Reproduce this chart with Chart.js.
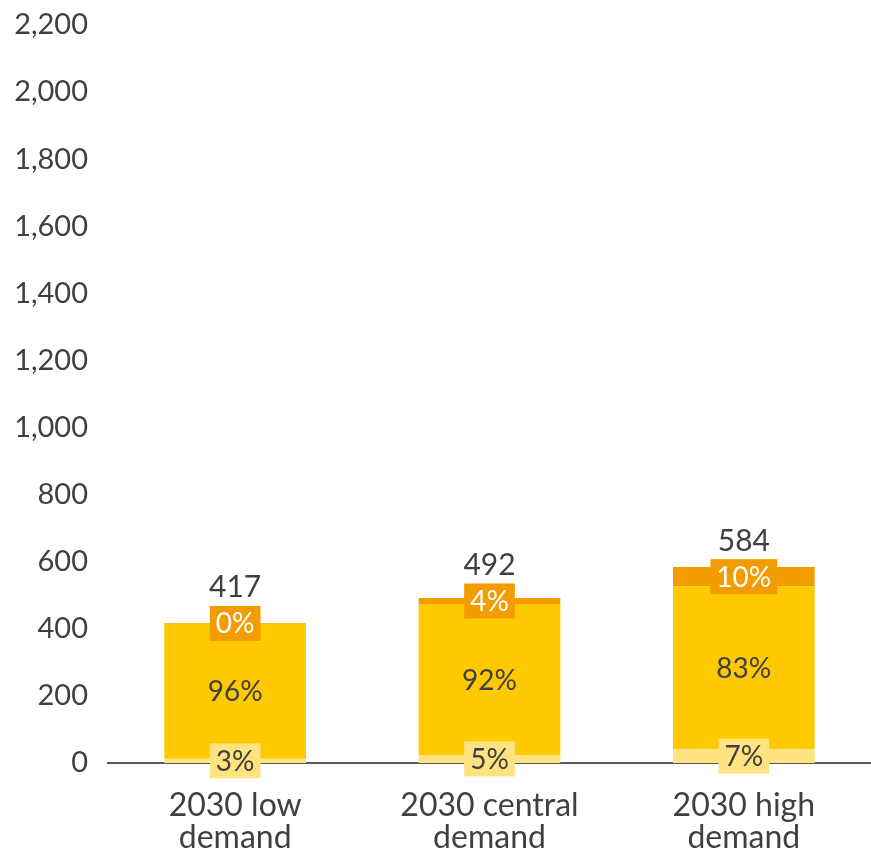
<!DOCTYPE html>
<html>
<head>
<meta charset="utf-8">
<script src="https://cdn.jsdelivr.net/npm/chart.js@4.4.1/dist/chart.umd.min.js"></script>
<style>
  html, body { margin: 0; padding: 0; background: #ffffff; }
  #wrap { width: 871px; height: 854px; position: relative; }
</style>
</head>
<body>
<div id="wrap"><canvas id="c" width="871" height="854"></canvas></div>
<script>
const categories = [["2030 low", "demand"], ["2030 central", "demand"], ["2030 high", "demand"]];
const bottomValues = [13, 24, 41];
const middleValues = [402, 450, 486];
const topValues = [2, 18, 57];
const bottomLabels = ["3%", "5%", "7%"];
const middleLabels = ["96%", "92%", "83%"];
const topLabels = ["0%", "4%", "10%"];
const totals = ["417", "492", "584"];

const FONT = "Lato, 'Noto Sans', sans-serif";
const TEXT = "#404040";
const LIGHT = "#FFE380";
const YELLOW = "#FFC900";
const ORANGE = "#F39C00";

const labelSets = [
  { labels: bottomLabels, box: LIGHT, color: TEXT },
  { labels: middleLabels, box: null, color: TEXT },
  { labels: topLabels, box: ORANGE, color: "#ffffff" }
];

const labelPlugin = {
  id: "segLabels",
  afterDatasetsDraw(chart) {
    const ctx = chart.ctx;
    ctx.save();
    ctx.font = "28px " + FONT;
    ctx.textAlign = "center";
    ctx.textBaseline = "middle";
    labelSets.forEach((set, di) => {
      const meta = chart.getDatasetMeta(di);
      meta.data.forEach((el, i) => {
        const cy = (el.y + el.base) / 2;
        const txt = set.labels[i];
        const w = ctx.measureText(txt).width;
        if (set.box) {
          ctx.fillStyle = set.box;
          ctx.fillRect(el.x - w / 2 - 6, cy - 17.5, w + 12, 35);
        }
        ctx.fillStyle = set.color;
        ctx.fillText(txt, el.x, cy + 1);
      });
    });
    const topMeta = chart.getDatasetMeta(2);
    ctx.font = "30px " + FONT;
    ctx.textBaseline = "alphabetic";
    ctx.fillStyle = TEXT;
    topMeta.data.forEach((el, i) => {
      const cy = (el.y + el.base) / 2;
      ctx.fillText(totals[i], el.x, cy - 26);
    });
    ctx.restore();
  }
};

new Chart(document.getElementById("c"), {
  type: "bar",
  data: {
    labels: categories,
    datasets: [
      { label: "Segment 1", data: bottomValues, backgroundColor: LIGHT },
      { label: "Segment 2", data: middleValues, backgroundColor: YELLOW },
      { label: "Segment 3", data: topValues, backgroundColor: ORANGE }
    ]
  },
  options: {
    responsive: false,
    animation: false,
    layout: { padding: { top: 25, right: 0, left: 0, bottom: 0 } },
    datasets: { bar: { categoryPercentage: 0.557, barPercentage: 1.0 } },
    plugins: { legend: { display: false }, tooltip: { enabled: false } },
    scales: {
      x: {
        stacked: true,
        grid: { display: false, drawTicks: false },
        border: { display: true, color: "#5a5a5a", width: 2 },
        afterFit(scale) { scale.height = 91; },
        ticks: { color: TEXT, font: { family: FONT, size: 32, lineHeight: 1.0 }, padding: 27, maxRotation: 0 }
      },
      y: {
        stacked: true,
        min: 0,
        max: 2200,
        grid: { display: false, drawTicks: false },
        border: { display: false },
        afterFit(scale) { scale.width = 108; scale.paddingTop = 0; scale.paddingBottom = 0; },
        ticks: {
          stepSize: 200,
          color: TEXT,
          padding: 20,
          font: { family: FONT, size: 29 },
          callback: (v) => v.toLocaleString("en-US")
        }
      }
    }
  },
  plugins: [labelPlugin]
});
</script>
</body>
</html>
